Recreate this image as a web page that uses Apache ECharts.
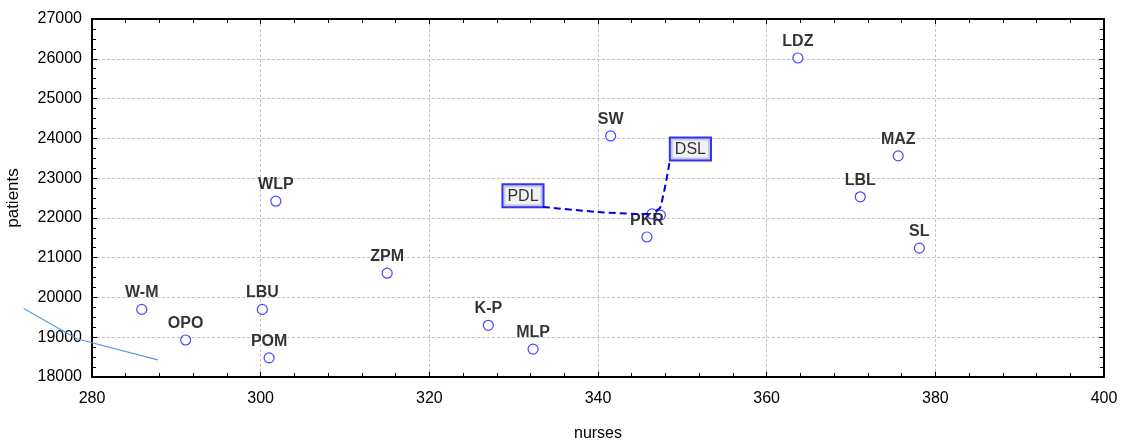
<!DOCTYPE html>
<html><head><meta charset="utf-8">
<script src="https://cdn.jsdelivr.net/npm/echarts@6/dist/echarts.min.js"></script>
<style>html,body{margin:0;padding:0;background:#fff}#c{width:1121px;height:441px}</style>
</head><body><div id="c"></div>
<script>
var names = ['W-M','OPO','LBU','POM','WLP','ZPM','K-P','MLP','SW','PKR','PDL','DSL','LDZ','LBL','MAZ','SL'];
var nurses = [285.9, 291.1, 300.2, 301.0, 301.8, 315.0, 327.0, 332.3, 341.5, 345.8, 346.4, 347.4, 363.7, 371.1, 375.6, 378.1];
var patients = [19700, 18930, 19700, 18480, 22420, 20610, 19300, 18700, 24060, 21520, 22100, 22070, 26020, 22530, 23560, 21240];
var boxed = ['PDL','DSL'];
var strayX = [271.9, 278.2, 287.8];
var strayY = [19720, 18960, 18430];

var FONT = 'Liberation Sans, Arial, sans-serif';
var blue = '#1a1aff';
// label box offsets (px) and leader-line bend offsets (px), relative to the point
var offsets = {PDL:[-129, 1], DSL:[30, -47]};
var leaders = {PDL:[[-109,-7],[-55,-2],[-15,0],[0,0]], DSL:[[9,-52],[0,-8],[-5,-4]]};

var data = names.map(function(n, i){
  var item = {value:[nurses[i], patients[i]], name:n};
  if (boxed.indexOf(n) >= 0) {
    item.label = {backgroundColor:'#eeeeee', borderColor:'#0000ee', borderWidth:2, padding:[3,4,2,4], fontSize:16, fontWeight:'normal', color:'#000'};
  }
  return item;
});
var chart = echarts.init(document.getElementById('c'));
var gridLine = {show:true, lineStyle:{color:'#c4c4c4', type:[3,2], width:1}};
var axLine = {show:true, onZero:false, lineStyle:{color:'#000', width:2}};
function tick(){ return {inside:true, length:5, lineStyle:{color:'#000', width:1}}; }
function minor(n){ return {show:true, splitNumber:n, length:4, lineStyle:{color:'#000', width:1}}; }
chart.setOption({
  animation:false,
  grid:{left:92, right:17, top:19, bottom:64, containLabel:false, outerBoundsMode:'none'},
  xAxis:[{type:'value', min:280, max:400, interval:20, position:'bottom',
    name:'nurses', nameLocation:'middle', nameGap:49,
    nameTextStyle:{fontFamily:FONT, fontSize:16, color:'#000'},
    axisLine:axLine, axisTick:tick(), minorTick:minor(5),
    axisLabel:{fontFamily:FONT, fontSize:16, color:'#000', margin:14},
    splitLine:gridLine},
   {type:'value', min:280, max:400, interval:20, position:'top',
    axisLine:axLine, axisTick:tick(), minorTick:minor(5),
    axisLabel:{show:false}, splitLine:{show:false}}],
  yAxis:[{type:'value', min:18000, max:27000, interval:1000,
    name:'patients', nameLocation:'middle', nameGap:70, nameRotate:90,
    nameTextStyle:{fontFamily:FONT, fontSize:17, color:'#000'},
    axisLine:axLine, axisTick:tick(), minorTick:minor(4),
    axisLabel:{fontFamily:FONT, fontSize:16, color:'#000', margin:10, formatter:function(v){return String(v);}},
    splitLine:gridLine},
   {type:'value', min:18000, max:27000, interval:1000, position:'right',
    axisLine:axLine, axisTick:tick(), minorTick:minor(4),
    axisLabel:{show:false}, splitLine:{show:false}}],
  series:[
    {type:'custom', clip:false, silent:true, z:4, data:boxed,
     renderItem:function(params, api){
       var n = boxed[params.dataIndex];
       var i = names.indexOf(n);
       var p = api.coord([nurses[i], patients[i]]);
       var pts = leaders[n].map(function(o){ return [p[0]+o[0], p[1]+o[1]]; });
       return {type:'polyline', shape:{points:pts, smooth:0.3}, style:{stroke:'#0000ee', lineWidth:2, fill:null, lineDash:[7,4]}};
     }},
    {type:'scatter', data:data, symbol:'circle', symbolSize:10,
     itemStyle:{color:'#fff', borderColor:blue, borderWidth:1.2},
     label:{show:true, position:'top', distance:3, formatter:'{b}', fontFamily:FONT, fontSize:16, fontWeight:'bold', color:'#000'},
     labelLine:{show:false},
     labelLayout:function(p){
       var o = offsets[names[p.dataIndex]];
       return o ? {dx:o[0], dy:o[1]} : {};
     },
     emphasis:{disabled:true}, z:3},
    {type:'custom', clip:false, silent:true, z:2, data:[0],
     renderItem:function(params, api){
       var pts = strayX.map(function(x,i){ return api.coord([x, strayY[i]]); });
       return {type:'polyline', shape:{points:pts}, style:{stroke:'#5a9bd8', lineWidth:1.2, fill:null}};
     }}
  ]
});
</script></body></html>
